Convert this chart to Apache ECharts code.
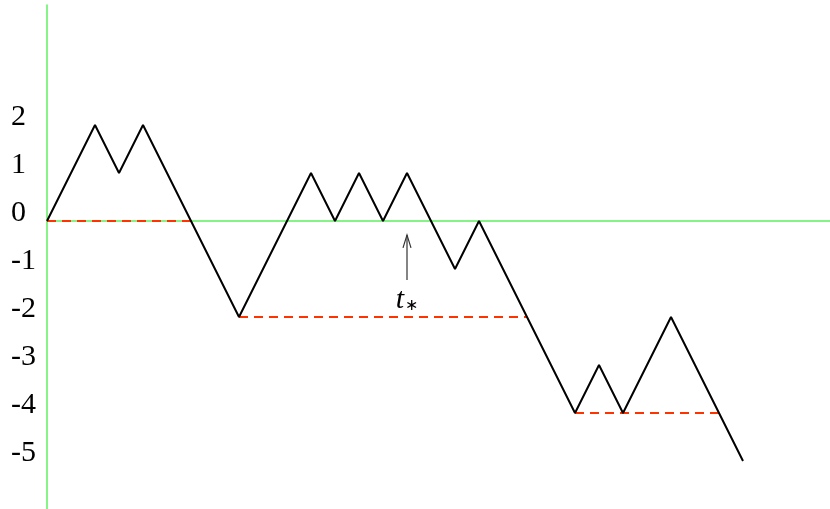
<!DOCTYPE html>
<html><head><meta charset="utf-8">
<script src="https://cdn.jsdelivr.net/npm/echarts@6/dist/echarts.min.js"></script>
<style>html,body{margin:0;padding:0;background:#fff}#c{width:830px;height:509px}</style>
</head><body><div id="c"></div>
<script>
// Random walk values at steps t = 0..29
const steps = [0,1,2,3,4,5,6,7,8,9,10,11,12,13,14,15,16,17,18,19,20,21,22,23,24,25,26,27,28,29];
const walk  = [0,1,2,1,2,1,0,-1,-2,-1,0,1,0,1,0,1,0,-1,0,-1,-2,-3,-4,-3,-4,-3,-2,-3,-4,-5];
// Running-minimum (ladder) segments: [tStart, tEnd, level]
const ladders = [[0,6,0],[8,20,-2],[22,28,-4]];
const yTickLabels = ['2','1','0','-1','-2','-3','-4','-5'];
// Arrow marking t_*
const tStar = 15;
const arrowFrom = -1.23, arrowTo = -0.29, tStarLabelY = -1.65;

const serif = "'Liberation Serif', 'Times New Roman', Times, serif";
const chart = echarts.init(document.getElementById('c'));
const green = '#5ef05e';
const series = [];
ladders.forEach(l => {
  series.push({type:'line', data:[[l[0],l[2]],[l[1],l[2]]], symbol:'none', silent:true, z:3,
    lineStyle:{color:'#ff3300', width:2, type:[9,6]}});
});
series.push({type:'line', data: steps.map((t,i)=>[t,walk[i]]), symbol:'none', z:4,
  lineStyle:{color:'#000', width:2}});
series.push({type:'custom', z:5, data:[[tStar, arrowFrom, arrowTo, tStarLabelY]],
  renderItem:(params, api)=>{
    const p0 = api.coord([api.value(0), api.value(1)]);
    const p1 = api.coord([api.value(0), api.value(2)]);
    const pl = api.coord([api.value(0), api.value(3)]);
    return {type:'group', children:[
      {type:'line', shape:{x1:p0[0],y1:p0[1],x2:p1[0],y2:p1[1]}, style:{stroke:'#333', lineWidth:1.2}},
      {type:'polyline', shape:{points:[[p1[0]-4,p1[1]+13],[p1[0],p1[1]],[p1[0]+4,p1[1]+13]]}, style:{stroke:'#333', lineWidth:1.2, fill:null}},
      {type:'text', x:pl[0], y:pl[1], style:{
        text:'{t|t}{s|∗}', align:'center', verticalAlign:'middle',
        rich:{t:{fontFamily:serif, fontStyle:'italic', fontSize:30, fill:'#000'},
              s:{fontFamily:'DejaVu Sans', fontSize:16, fill:'#000', padding:[12,0,0,1]}}}}
    ]};
  }});

chart.setOption({
  animation:false,
  grid:{left:47, right:0, top:5, bottom:0, containLabel:false},
  xAxis:{type:'value', min:0, max:32.625, axisLine:{onZero:true, lineStyle:{color:green, width:1.5}},
    axisTick:{show:false}, axisLabel:{show:false}, splitLine:{show:false}},
  yAxis:{type:'value', min:-6, max:4.5, interval:1,
    axisLine:{show:true, lineStyle:{color:green, width:1.5}}, axisTick:{show:false}, splitLine:{show:false},
    axisLabel:{align:'left', verticalAlign:'bottom', lineHeight:15, margin:36, fontFamily:serif, fontSize:30, color:'#000',
      formatter:v=>{ const s=String(v); return yTickLabels.indexOf(s)>=0 ? s : ''; }}},
  series:series
});
</script></body></html>
